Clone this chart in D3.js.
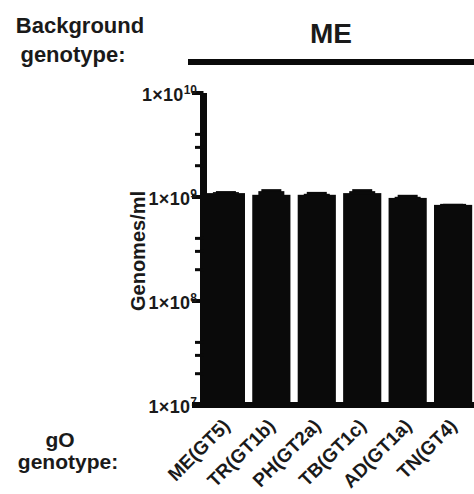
<!DOCTYPE html>
<html>
<head>
<meta charset="utf-8">
<script src="https://cdn.jsdelivr.net/npm/d3@7"></script>
<style>
  html, body { margin: 0; padding: 0; background: #fff; }
  svg { display: block; }
  text { font-family: "Liberation Sans", Arial, Helvetica, sans-serif; fill: #1a1a1a; }
</style>
</head>
<body>
<svg id="chart" width="474" height="494"></svg>
<script>
// gO genotype on the ME background
const categories = ["ME(GT5)", "TR(GT1b)", "PH(GT2a)", "TB(GT1c)", "AD(GT1a)", "TN(GT4)"];
const means = [1.09e9, 1.05e9, 1.05e9, 1.09e9, 0.98e9, 0.84e9];
const errors = [0.05e9, 0.14e9, 0.07e9, 0.10e9, 0.07e9, 0.02e9];
const yMajor = [1e7, 1e8, 1e9, 1e10];
const yMajorExp = ["7", "8", "9", "10"];
const yMinor = [2e7, 3e7, 4e7, 2e8, 3e8, 4e8, 2e9, 3e9, 4e9];

const svg = d3.select("#chart");
const ink = "#0a0a0a";

const x = d3.scaleBand().domain(categories).range([205, 474]).paddingInner(0.16).paddingOuter(0.04);
const y = d3.scaleLog().domain([1e7, 1e10]).range([405, 93]);

// bars
svg.append("g").selectAll("rect")
  .data(categories)
  .join("rect")
  .attr("x", d => x(d))
  .attr("width", x.bandwidth())
  .attr("y", (d, i) => y(means[i]))
  .attr("height", (d, i) => y(1e7) - y(means[i]))
  .attr("fill", ink);

// upper error bars: thick stem merged into the bar, with a cap
const eb = svg.append("g").attr("fill", ink);
categories.forEach((c, i) => {
  const cx = x(c) + x.bandwidth() / 2;
  const top = y(means[i] + errors[i]);
  const base = y(means[i]);
  eb.append("rect").attr("x", cx - 10).attr("width", 20)
    .attr("y", top).attr("height", base - top + 1);
  eb.append("rect").attr("x", cx - 13).attr("width", 26)
    .attr("y", Math.min(top + 2, base - 1)).attr("height", Math.max(base - top - 1, 1.5));
});

// y axis
const axisX = 203.5;
const yAxis = svg.append("g");
yAxis.append("line").attr("x1", axisX).attr("x2", axisX)
  .attr("y1", y(1e10)).attr("y2", y(1e7) + 3)
  .attr("stroke", ink).attr("stroke-width", 7);
yAxis.selectAll("line.major").data(yMajor).join("line").attr("class", "major")
  .attr("x1", 192).attr("x2", axisX).attr("y1", d => y(d)).attr("y2", d => y(d))
  .attr("stroke", ink).attr("stroke-width", 4);
yAxis.selectAll("line.minor").data(yMinor).join("line").attr("class", "minor")
  .attr("x1", 195).attr("x2", axisX).attr("y1", d => y(d)).attr("y2", d => y(d))
  .attr("stroke", ink).attr("stroke-width", 3);

const lbl = yAxis.selectAll("text.tick").data(yMajor).join("text").attr("class", "tick")
  .attr("x", 197).attr("y", d => y(d) + 8)
  .attr("text-anchor", "end")
  .attr("font-weight", "bold").attr("font-size", 18).attr("letter-spacing", 0.3);
lbl.append("tspan").text("1×10");
lbl.append("tspan").attr("dy", -7).attr("font-size", 12).attr("letter-spacing", 0).text((d, i) => yMajorExp[i]);

// x axis
svg.append("line").attr("x1", 192).attr("x2", 474)
  .attr("y1", 405).attr("y2", 405)
  .attr("stroke", ink).attr("stroke-width", 6);

// category labels
svg.append("g").selectAll("text")
  .data(categories)
  .join("text")
  .attr("transform", d => `translate(${x(d) + x.bandwidth() / 2 + 5},${427}) rotate(-45)`)
  .attr("text-anchor", "end")
  .attr("font-weight", "bold").attr("font-size", 19)
  .text(d => d);

// y axis title
svg.append("text")
  .attr("transform", "translate(145,251) rotate(-90)")
  .attr("text-anchor", "middle")
  .attr("font-weight", "bold")
  .attr("font-size", 20)
  .text("Genomes/ml");

// background genotype header
svg.append("text").attr("x", 80).attr("y", 33).attr("text-anchor", "middle")
  .attr("font-weight", "bold").attr("font-size", 22).text("Background");
svg.append("text").attr("x", 73).attr("y", 62).attr("text-anchor", "middle")
  .attr("font-weight", "bold").attr("font-size", 22).text("genotype:");
svg.append("text").attr("x", 331).attr("y", 43).attr("text-anchor", "middle")
  .attr("font-weight", "bold").attr("font-size", 28).text("ME");
svg.append("line").attr("x1", 188).attr("x2", 474).attr("y1", 62).attr("y2", 62)
  .attr("stroke", ink).attr("stroke-width", 6);

// gO genotype caption
svg.append("text").attr("x", 60).attr("y", 447).attr("text-anchor", "middle")
  .attr("font-weight", "bold").attr("font-size", 21).text("gO");
svg.append("text").attr("x", 68).attr("y", 469).attr("text-anchor", "middle")
  .attr("font-weight", "bold").attr("font-size", 21).text("genotype:");
</script>
</body>
</html>
